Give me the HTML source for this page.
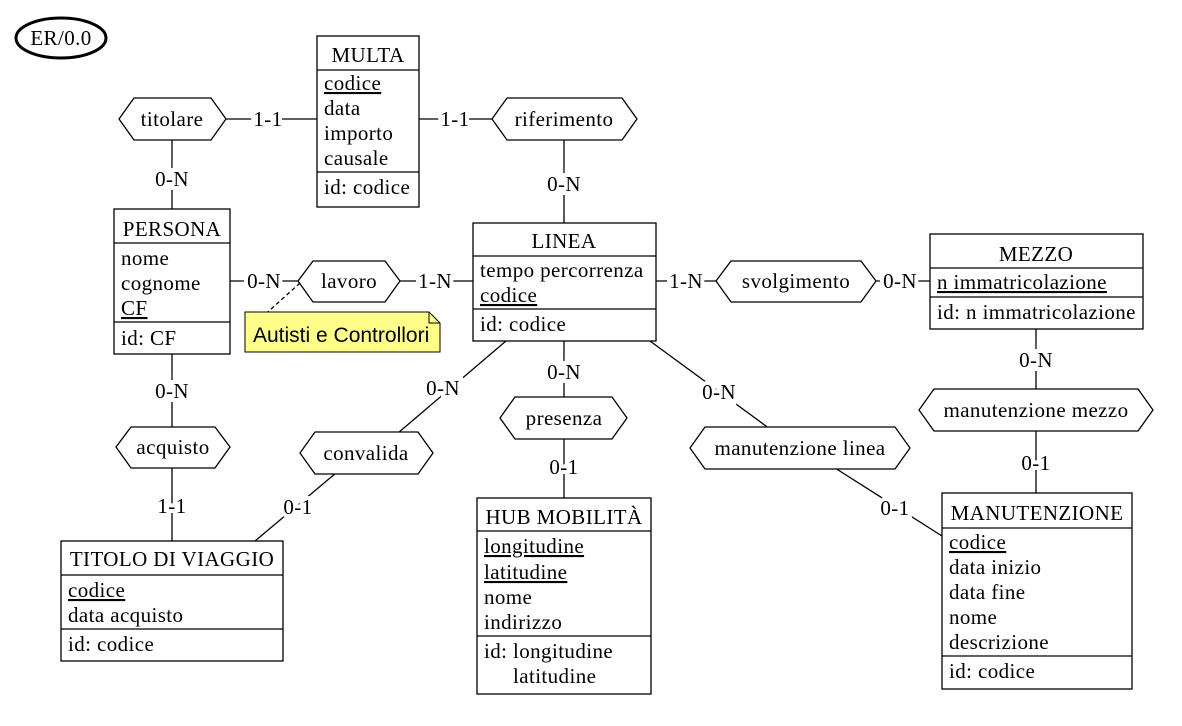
<!DOCTYPE html>
<html><head><meta charset="utf-8"><style>
html,body{margin:0;padding:0;background:#fff;}
svg{display:block;}
text{font-family:"Liberation Serif",serif;font-size:21px;letter-spacing:0.4px;fill:#000;}
.lbl{paint-order:stroke;stroke:#fff;stroke-width:8px;text-anchor:middle;}
.c{text-anchor:middle;}
</style></head><body>
<svg id="er" width="1182" height="726" viewBox="0 0 1182 726" xmlns="http://www.w3.org/2000/svg">
<g stroke="#000" stroke-width="1.3" fill="none">
<line x1="226" y1="119" x2="317" y2="119"/>
<line x1="419" y1="119" x2="492" y2="119"/>
<line x1="172" y1="140" x2="172" y2="209"/>
<line x1="564" y1="140" x2="564" y2="223"/>
<line x1="230" y1="281" x2="298" y2="281"/>
<line x1="400" y1="281" x2="473" y2="281"/>
<line x1="656" y1="281" x2="716" y2="281"/>
<line x1="876" y1="281" x2="930" y2="281"/>
<line x1="1036" y1="329" x2="1036" y2="389"/>
<line x1="1036" y1="431" x2="1036" y2="493"/>
<line x1="172" y1="354" x2="172" y2="427"/>
<line x1="172" y1="468" x2="172" y2="541"/>
<line x1="564" y1="341" x2="564" y2="397"/>
<line x1="564" y1="439" x2="564" y2="498"/>
<line x1="506" y1="341" x2="398" y2="433"/>
<line x1="336" y1="473" x2="255" y2="541"/>
<line x1="650" y1="341" x2="770" y2="429"/>
<line x1="835" y1="468" x2="942" y2="536"/>
<line x1="300" y1="283" x2="250" y2="328" stroke-dasharray="4,3"/>
</g>
<ellipse cx="61" cy="38" rx="45" ry="20" fill="none" stroke="#000" stroke-width="3"/>
<text x="61" y="45" class="c">ER/0.0</text>

<g>
<path d="M245 312 H429 L440 323 V352 H245 Z" fill="#ffff88" stroke="#000" stroke-width="1"/>
<path d="M429 312 V323 H440" fill="none" stroke="#000" stroke-width="1"/>
<text x="253" y="342" style="font-family:'Liberation Sans',sans-serif;font-size:21px;letter-spacing:0">Autisti e Controllori</text>
</g>

<g fill="#fff" stroke="#000" stroke-width="1.3">
<polygon points="119,119 134,98 211,98 226,119 211,140 134,140"/>
<polygon points="492,119 507,98 622,98 637,119 622,140 507,140"/>
<polygon points="298,281 313,261 385,261 400,281 385,302 313,302"/>
<polygon points="716,281 731,261 861,261 876,281 861,302 731,302"/>
<polygon points="116,447 131,427 215,427 230,447 215,468 131,468"/>
<polygon points="300,453 315,432 418,432 433,453 418,474 315,474"/>
<polygon points="500,418 515,397 612,397 627,418 612,439 515,439"/>
<polygon points="690,448 705,427 895,427 910,448 895,469 705,469"/>
<polygon points="919,410 934,389 1138,389 1153,410 1138,431 934,431"/>
</g>
<g class="c">
<text x="172" y="126" class="c">titolare</text>
<text x="564" y="126" class="c">riferimento</text>
<text x="349" y="288" class="c">lavoro</text>
<text x="796" y="288" class="c">svolgimento</text>
<text x="173" y="454" class="c">acquisto</text>
<text x="366" y="460" class="c">convalida</text>
<text x="564" y="425" class="c">presenza</text>
<text x="800" y="455" class="c">manutenzione linea</text>
<text x="1036" y="417" class="c">manutenzione mezzo</text>
</g>

<g>
<text x="268" y="126" class="lbl">1-1</text>
<text x="455" y="126" class="lbl">1-1</text>
<text x="172" y="186" class="lbl">0-N</text>
<text x="564" y="191" class="lbl">0-N</text>
<text x="264" y="288" class="lbl">0-N</text>
<text x="435" y="288" class="lbl">1-N</text>
<text x="686" y="288" class="lbl">1-N</text>
<text x="900" y="288" class="lbl">0-N</text>
<text x="1036" y="367" class="lbl">0-N</text>
<text x="1036" y="470" class="lbl">0-1</text>
<text x="172" y="398" class="lbl">0-N</text>
<text x="172" y="513" class="lbl">1-1</text>
<text x="564" y="379" class="lbl">0-N</text>
<text x="564" y="474" class="lbl">0-1</text>
<text x="443" y="395" class="lbl">0-N</text>
<text x="298" y="514" class="lbl">0-1</text>
<text x="719" y="399" class="lbl">0-N</text>
<text x="895" y="515" class="lbl">0-1</text>
</g>

<g fill="#fff" stroke="#000" stroke-width="1.3">
<rect x="317" y="36" width="102" height="171"/><line x1="317" y1="70" x2="419" y2="70"/><line x1="317" y1="172" x2="419" y2="172"/>
<rect x="114" y="209" width="116" height="145"/><line x1="114" y1="243" x2="230" y2="243"/><line x1="114" y1="322" x2="230" y2="322"/>
<rect x="473" y="223" width="183" height="118"/><line x1="473" y1="256" x2="656" y2="256"/><line x1="473" y1="309" x2="656" y2="309"/>
<rect x="930" y="234" width="213" height="95"/><line x1="930" y1="268" x2="1143" y2="268"/><line x1="930" y1="297" x2="1143" y2="297"/>
<rect x="61" y="541" width="222" height="120"/><line x1="61" y1="575" x2="283" y2="575"/><line x1="61" y1="629" x2="283" y2="629"/>
<rect x="477" y="498" width="174" height="196"/><line x1="477" y1="531" x2="651" y2="531"/><line x1="477" y1="636" x2="651" y2="636"/>
<rect x="942" y="493" width="190" height="196"/><line x1="942" y1="528" x2="1132" y2="528"/><line x1="942" y1="656" x2="1132" y2="656"/>
</g>

<g>
<text x="368" y="62" class="c">MULTA</text>
<text x="324" y="90" text-decoration="underline">codice</text>
<text x="324" y="115">data</text>
<text x="324" y="140">importo</text>
<text x="324" y="165">causale</text>
<text x="324" y="194">id: codice</text>
</g>
<g>
<text x="172" y="236" class="c">PERSONA</text>
<text x="121" y="265">nome</text>
<text x="121" y="290">cognome</text>
<text x="121" y="315" text-decoration="underline">CF</text>
<text x="121" y="345">id: CF</text>
</g>
<g>
<text x="564" y="248" class="c">LINEA</text>
<text x="480" y="277">tempo percorrenza</text>
<text x="480" y="302" text-decoration="underline">codice</text>
<text x="480" y="331">id: codice</text>
</g>
<g>
<text x="1036" y="261" class="c">MEZZO</text>
<text x="937" y="289" text-decoration="underline">n immatricolazione</text>
<text x="937" y="319">id: n immatricolazione</text>
</g>
<g>
<text x="172" y="566" class="c">TITOLO DI VIAGGIO</text>
<text x="68" y="597" text-decoration="underline">codice</text>
<text x="68" y="622">data acquisto</text>
<text x="68" y="651">id: codice</text>
</g>
<g>
<text x="564" y="524" class="c">HUB MOBILITÀ</text>
<text x="484" y="553" text-decoration="underline">longitudine</text>
<text x="484" y="579" text-decoration="underline">latitudine</text>
<text x="484" y="604">nome</text>
<text x="484" y="629">indirizzo</text>
<text x="484" y="658">id: longitudine</text>
<text x="513" y="683">latitudine</text>
</g>
<g>
<text x="1037" y="520" class="c">MANUTENZIONE</text>
<text x="949" y="549" text-decoration="underline">codice</text>
<text x="949" y="574">data inizio</text>
<text x="949" y="599">data fine</text>
<text x="949" y="624">nome</text>
<text x="949" y="649">descrizione</text>
<text x="949" y="678">id: codice</text>
</g>
</svg>
</body></html>
